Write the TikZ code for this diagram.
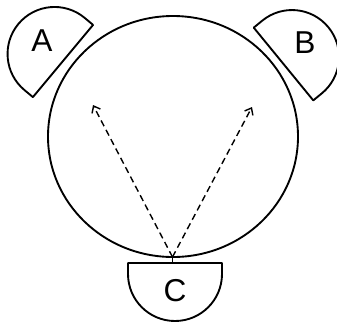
\documentclass[tikz,border=0pt]{standalone}
\usepackage{fontspec}
\setsansfont{Liberation Sans}
\usetikzlibrary{arrows.meta}

\begin{document}
\begin{tikzpicture}[x=0.03cm, y=-0.03cm, line width=1.6pt, line join=round, >={Straight Barb[length=5pt,width=8pt]},
  beam/.style={->, line width=1.2pt, dash pattern=on 5.5pt off 3.5pt},
  tag/.style={font=\sffamily\fontsize{27}{27}\selectfont}]
  \useasboundingbox (0,0) rectangle (337,324);
  \draw (173,136.5) ellipse [x radius=125, y radius=120.5];
  \foreach \mx/\my/\ang in {63/61/230.2, 283.5/64/129.3, 175/263/0}
    \draw [shift={(\mx,\my)}, rotate=\ang] (-47,0) -- (-47,11) arc [start angle=180, end angle=0, radius=47] -- (47,0) -- cycle;
  \node [tag] (A) at (42,41) {A};
  \node [tag] (B) at (305,43) {B};
  \node [tag] (C) at (175,291) {C};
  \coordinate (contact) at (172.5,257);
  \coordinate (mouth) at (172.5,263);
  \coordinate (aimA) at (93,105);
  \coordinate (aimB) at (252,107);
  \draw [line width=1.2pt] (contact) -- (mouth);
  \draw [beam] (contact) -- (aimA);
  \draw [beam] (contact) -- (aimB);
\end{tikzpicture}
\end{document}
